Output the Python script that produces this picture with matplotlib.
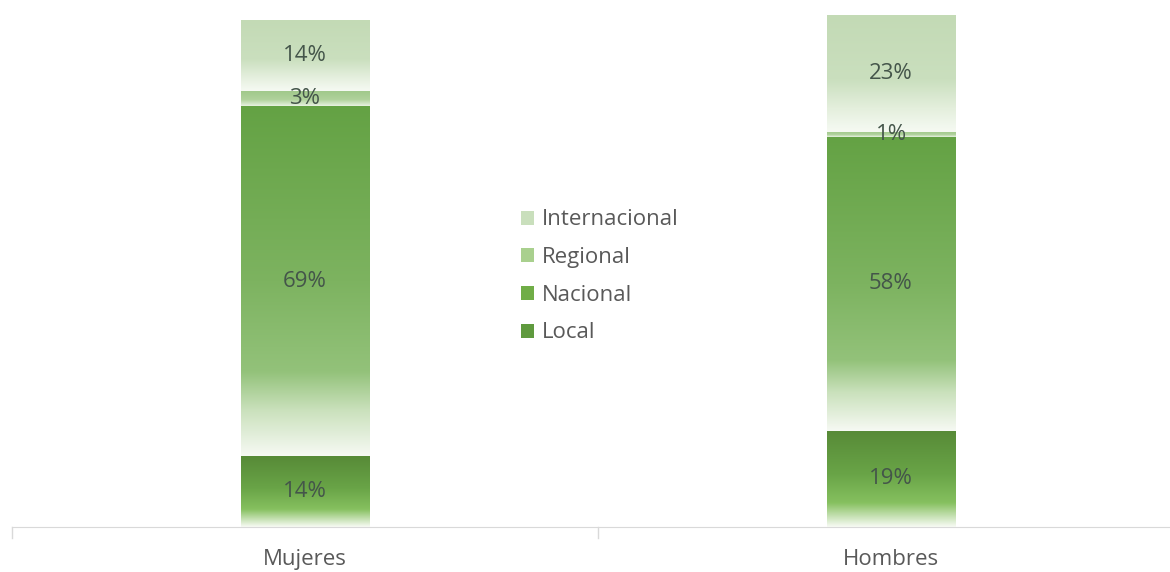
import matplotlib
matplotlib.use("Agg")
import matplotlib.pyplot as plt
import numpy as np
from matplotlib.colors import LinearSegmentedColormap
from matplotlib.patches import Patch

categories = ["Mujeres", "Hombres"]
series = ["Local", "Nacional", "Regional", "Internacional"]
local = [14, 19]
nacional = [69, 58]
regional = [3, 1]
internacional = [14, 23]
values = [local, nacional, regional, internacional]

# gradient stops per series: (position from top, colour)
grads = {
    "Local": [(0, "#578a37"), (0.45, "#69a447"), (0.75, "#86c05f"), (1, "#f8fbf5")],
    "Nacional": [(0, "#64a244"), (0.5, "#7db360"), (0.76, "#93c27a"),
                 (0.87, "#cae1bc"), (1, "#f6f9f3")],
    "Regional": [(0, "#9fc889"), (0.6, "#b0d29c"), (1, "#e9f2e3")],
    "Internacional": [(0, "#c3dab5"), (0.55, "#cadfbe"), (0.8, "#e4efdd"), (1, "#f6faf3")],
}
legend_colors = {"Local": "#5f9a3e", "Nacional": "#70ad47",
                 "Regional": "#a9d08e", "Internacional": "#c9dfbc"}

plt.rcParams["font.family"] = ["Open Sans", "DejaVu Sans"]
fig = plt.figure(figsize=(11.7, 5.72), dpi=100)
ax = fig.add_axes([12 / 1170, 45 / 572, 1172 / 1170, 522 / 572])

x = np.arange(len(categories))
width = 0.22
bottom = np.zeros(len(categories))
grad = np.linspace(0, 1, 256).reshape(-1, 1)
for name, vals in zip(series, values):
    bars = ax.bar(x, vals, width, bottom=bottom, color="none", edgecolor="none")
    stops = [(1 - p, c) for p, c in grads[name]][::-1]
    cmap = LinearSegmentedColormap.from_list(name, stops)
    for b, v in zip(bars, vals):
        x0, y0 = b.get_x(), b.get_y()
        w, h = b.get_width(), b.get_height()
        ax.imshow(grad, extent=[x0, x0 + w, y0, y0 + h], origin="lower",
                  cmap=cmap, aspect="auto", interpolation="bilinear", zorder=2)
        ax.text(x0 + w / 2, y0 + h / 2, f"{v}%", ha="center", va="center",
                fontsize=16, color="#44554a", zorder=3)
    bottom += np.array(vals)

ax.set_xlim(-0.5, 1.5)
ax.set_ylim(0, 103)
ax.set_xticks(x)
ax.set_xticklabels(categories, fontsize=16, color="#595959")
ax.tick_params(axis="x", length=0, pad=16)
for xt in [-0.5, 0.5, 1.5]:
    ax.plot([xt, xt], [0, -2.2], color="#d9d9d9", lw=1, clip_on=False)
ax.set_yticks([])
for s in ["top", "right", "left"]:
    ax.spines[s].set_visible(False)
ax.spines["bottom"].set_color("#d9d9d9")

handles = [Patch(facecolor=legend_colors[s], edgecolor="none") for s in series[::-1]]
ax.legend(handles, series[::-1], loc="center left", bbox_to_anchor=(0.417, 0.48),
          frameon=False, fontsize=16, labelcolor="#595959", handlelength=0.6,
          handleheight=0.6, handletextpad=0.35, labelspacing=0.75)

fig.savefig("out.png", dpi=100)
